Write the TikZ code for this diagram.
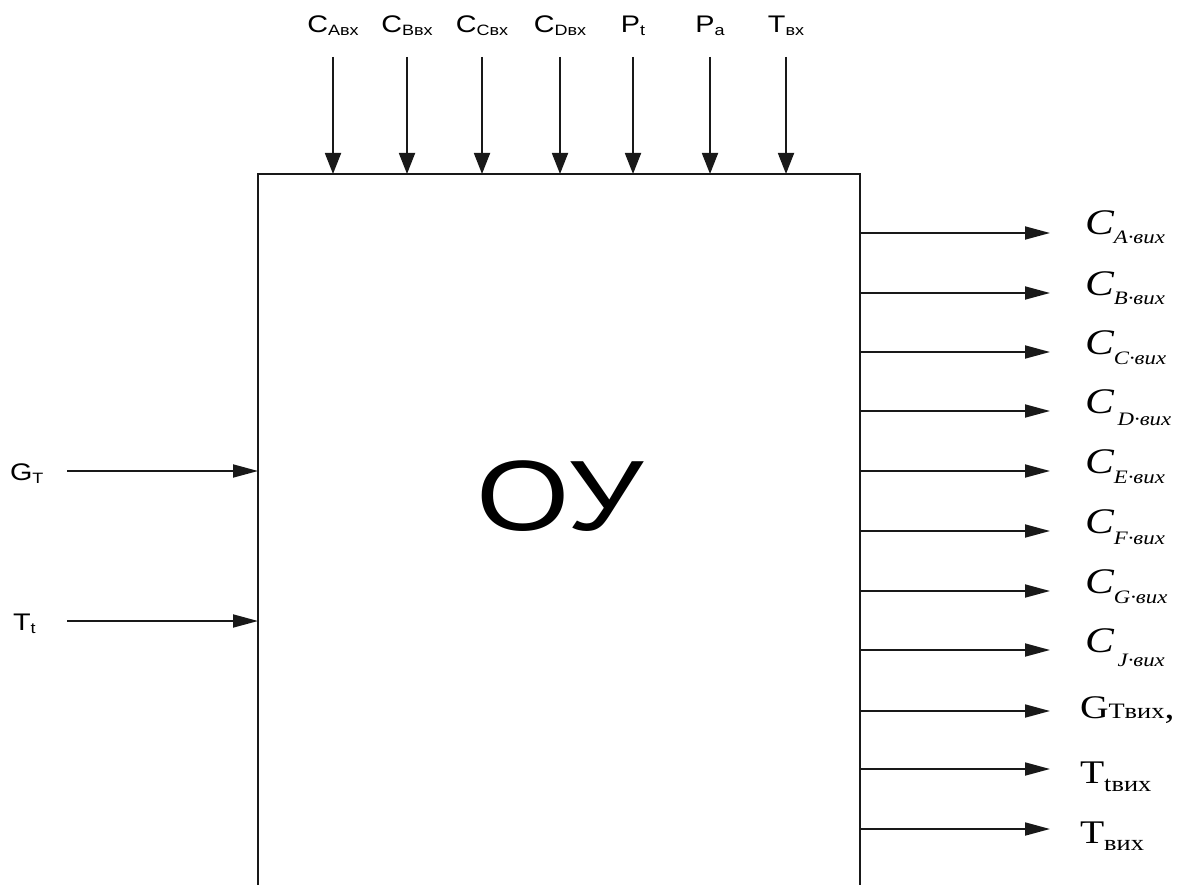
\documentclass[tikz,border=0pt]{standalone}
\usepackage{fontspec}
\setmainfont{Liberation Serif}
\newfontfamily\lsans{Liberation Sans}
\usetikzlibrary{arrows.meta}
\newcommand\fsz[1]{\fontsize{#1}{#1}\selectfont}
\newcommand\topl[2]{{\lsans\fsz{24}#1\raisebox{-3pt}{\fsz{15}#2}}}
\newcommand\outC[2]{{\fsz{36}\itshape C}\raisebox{-#2pt}{\fsz{19}\itshape #1·вих}}
\tikzset{
  arr/.style={line width=1.8pt, draw=black!90, -{Triangle[length=25pt,width=13pt]}},
  arrdown/.style={line width=1.8pt, draw=black!90, -{Triangle[length=21pt,width=16pt]}},
  boxline/.style={line width=1.8pt, draw=black!90},
  lab/.style={inner sep=0pt, outer sep=0pt, xscale=1.2},
}
\begin{document}
\begin{tikzpicture}[x=1pt,y=-1pt]
\useasboundingbox (0,0) rectangle (1177,885);
% box (open at the bottom edge of the picture)
\draw[boxline] (258,885) -- (258,174) -- (860,174) -- (860,885);
\node[lab, anchor=base] (ou) at (560,530) {\lsans\fsz{100}ОУ};
% top inputs
\foreach \n/\x/\a/\b in {ta/333/C/Aвх, tb/407/C/Bвх, tc/482/C/Cвх, td/560/C/Dвх, tp/633/P/t, tq/710/P/a, tt/786/T/вх}{
  \node[lab, anchor=base] (l\n) at (\x,33) {\topl{\a}{\b}};
  \coordinate (s\n) at (\x,57);
  \coordinate (e\n) at (\x,174);
  \draw[arrdown] (s\n) -- (e\n);
}
% left inputs
\node[lab, anchor=base west] (lg) at (10,480) {\lsans\fsz{24}G\raisebox{-3pt}{\fsz{15}T}};
\coordinate (sg) at (67,471);
\coordinate (eg) at (258,471);
\draw[arr] (sg) -- (eg);
\node[lab, anchor=base west] (lt) at (13,630) {\lsans\fsz{24}T\raisebox{-3pt}{\fsz{15}t}};
\coordinate (st) at (67,621);
\coordinate (et) at (258,621);
\draw[arr] (st) -- (et);
% right outputs
\foreach \n/\y/\s/\d in {A/233/A/9, B/293/B/9, C/352/C/10, D/411/\,D/12, E/471/E/10, F/531/F/11, G/591/G/10, J/650/\,J/14}{
  \node[lab, anchor=base west] (o\n) at (1085,\y+2) {\outC{\s}{\d}};
  \coordinate (so\n) at (860,\y);
  \coordinate (eo\n) at (1050,\y);
  \draw[arr] (so\n) -- (eo\n);
}
\node[lab, anchor=base west] (og) at (1080,718) {\fsz{33}G{\fsz{22}Tвих},};
\coordinate (sog) at (860,711);
\coordinate (eog) at (1050,711);
\draw[arr] (sog) -- (eog);
\node[lab, anchor=base west] (ott) at (1080,783) {\fsz{33}T\raisebox{-8pt}{\fsz{22}tвих}};
\coordinate (sott) at (860,769);
\coordinate (eott) at (1050,769);
\draw[arr] (sott) -- (eott);
\node[lab, anchor=base west] (otv) at (1080,843) {\fsz{33}T\raisebox{-7pt}{\fsz{22}вих}};
\coordinate (sotv) at (860,829);
\coordinate (eotv) at (1050,829);
\draw[arr] (sotv) -- (eotv);
\end{tikzpicture}
\end{document}
